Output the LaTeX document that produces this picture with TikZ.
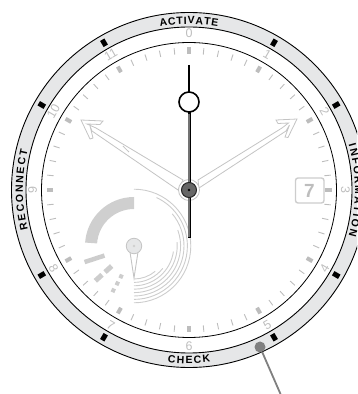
\documentclass[tikz,border=0pt]{standalone}
\usepackage{fontspec}
\setsansfont{Liberation Sans}
\definecolor{ringgrey}{HTML}{E6E7E8}
\definecolor{tickgrey}{HTML}{BDBDBD}
\definecolor{numgrey}{HTML}{BEBEBE}
\definecolor{handgrey}{HTML}{C4C4C4}
\definecolor{subgrey}{HTML}{CDCDCD}
\definecolor{arcgrey}{HTML}{CFCFCF}
\tikzset{
  minortick/.style={draw=tickgrey,line width=0.9pt},
  majortick/.style={draw=tickgrey,line width=4pt},
  ringmark/.style={draw=black,line width=5pt},
  numlabel/.style={text=numgrey,font=\sffamily\fontsize{12.5}{12.5}\selectfont,inner sep=0pt},
  greyhand/.style={draw=handgrey,fill=white,line width=0.8pt,line join=miter},
  subbar/.style={draw=subgrey},
  ringletter/.style={text=black,font=\sffamily\bfseries\fontsize{10.5}{10.5}\selectfont,inner sep=0pt,anchor=base}
}
\newdimen\rpos
% #1 radius, #2 centre angle, #3 +1 reads clockwise / -1 reads anticlockwise,
% #4 letter spacing, #5 letter/width-in-em list
\newcommand\ringword[5]{%
  \global\rpos=0pt
  \foreach \ch/\w in {#5}{\pgfmathsetlengthmacro{\tmpw}{\w*10.5+#4}\global\advance\rpos by \tmpw\relax}%
  \pgfmathsetlengthmacro{\tmpw}{\rpos-#4}%
  \global\rpos=-0.5\dimexpr\tmpw\relax
  \foreach \ch/\w in {#5}{%
    \pgfmathsetmacro{\hw}{\w*10.5/2}%
    \pgfmathsetmacro{\ang}{#2-#3*(\rpos/1pt+\hw)/#1*57.29578}%
    \pgfmathsetmacro{\rot}{\ang-#3*90}%
    \node[ringletter,rotate=\rot] at (\ang:#1) {\ch};%
    \pgfmathsetlengthmacro{\tmpw}{\w*10.5+#4}%
    \global\advance\rpos by \tmpw\relax
  }%
}
\begin{document}
\begin{tikzpicture}[x=1pt,y=1pt]
\useasboundingbox (0,0) rectangle (357,394);
\clip (0,0) rectangle (357,394);
\begin{scope}[shift={(189,204)}]
% bezel
\fill[ringgrey,even odd rule] (0,0) circle (177.5) (0,0) circle (163);
\draw[black,line width=0.9pt] (0,0) circle (177.5);
\draw[black,line width=0.9pt] (0,0) circle (163);
\draw[black,line width=0.8pt] (0,0) circle (147.5);
% bezel marks
\foreach \a in {30,60,120,150,210,240,300,330}
  \draw[ringmark] (\a:166.5) -- (\a:173.5);
% bezel texts
\ringword{166}{90}{1}{0.8pt}{A/.722,C/.722,T/.611,I/.278,V/.667,A/.722,T/.611,E/.667}
\ringword{166}{0}{1}{1.8pt}{I/.278,N/.722,F/.611,O/.778,R/.722,M/.833,A/.722,T/.611,I/.278,O/.778,N/.722}
\ringword{166}{180}{1}{1.7pt}{R/.722,E/.667,C/.722,O/.778,N/.722,N/.722,E/.667,C/.722,T/.611}
\ringword{173.5}{270}{-1}{1.4pt}{C/.722,H/.722,E/.667,C/.722,K/.722}
% minute ticks
\foreach \i in {0,...,59}{
  \pgfmathtruncatemacro{\m}{mod(\i,5)}
  \ifnum\m=0
    \draw[majortick] (90-6*\i:136) -- (90-6*\i:142.5);
  \else
    \draw[minortick] (90-6*\i:136) -- (90-6*\i:142.5);
  \fi
}
% numerals
\foreach \i/\r in {0/0,1/-30,2/-60,3/-90,4/60,5/30,6/0,7/-30,8/-60,9/90,10/60,11/30}
  \node[numlabel,rotate=\r] (num\i) at (90-30*\i:156.5) {\i};
% date window
\draw[draw=subgrey,fill=white,line width=1.4pt,rounded corners=2.5pt] (106.5,12) rectangle (135,-13);
\node[text=tickgrey,font=\sffamily\bfseries\fontsize{19}{19}\selectfont,inner sep=0pt] (date) at (120.5,-0.5) {7};
% grey hands
\draw[greyhand] (-108,70) -- (-86,69) -- (-89,65.5) -- (-102,66) -- (-93,62) -- (-6,10) -- (-11,0) -- (-97,59) -- (-99,64) -- (-96,52) -- (-99,51) -- cycle;
\draw[handgrey,line width=0.8pt] (-66,44) .. controls (-64,41.5) and (-62,40) .. (-60,38);
\draw[greyhand] (108,71) -- (87,70) -- (89,66.5) -- (99.5,67) -- (93,62) -- (9,10) -- (10,2) -- (97,59) -- (100.5,65) -- (96,53) -- (99,52.5) -- cycle;
% sub dial
\begin{scope}[shift={(-55,-56)}]
\foreach \r/\e in {33/-50,36.4/-38,39.8/-8,43.2/5,46.6/20,50/40,53.4/65,56.8/90}
  \draw[subgrey,line width=0.9pt] (-90:\r) arc[start angle=-90,end angle=\e,radius=\r];
\fill[arcgrey] (90:49) arc[start angle=90,end angle=176,radius=49] -- (176:37) arc[start angle=176,end angle=90,radius=37] -- cycle;
\draw[subbar,line width=4.5pt] (198:31) -- (198:52);
\draw[subbar,line width=5pt] (222:30) -- (222:39);
\draw[subbar,line width=5pt] (222:43) -- (222:52);
\draw[subbar,line width=4pt] (247:31) -- (247:35);
\draw[subbar,line width=4pt] (246:39) -- (246:43);
\draw[subbar,line width=4pt] (245:47) -- (245:51);
\draw[draw=handgrey,fill=white,line width=0.9pt] (-4,-6) -- (0,-32) -- (4,-6) -- cycle;
\node[circle,draw=handgrey,fill=ringgrey,line width=0.8pt,minimum size=15.5pt,inner sep=0pt] (subhub) at (0,0) {};
\fill[arcgrey] (0,0) circle (1.3);
\end{scope}
% black hands
\node[circle,draw=handgrey,fill=white,line width=0.8pt,minimum size=21pt,inner sep=0pt] (hubouter) at (0,0) {};
\coordinate (handtop) at (0,125);
\coordinate (handbot) at (0,-48);
\draw[black,line width=2pt] (handtop) -- (0,88);
\draw[black,line width=3pt] (0,88) -- (handbot);
\draw[black!55,line width=1.1pt] (0,76) -- (0,-47);
\node[circle,draw=black,fill=white,line width=1.6pt,minimum size=20pt,inner sep=0pt] (ringhub) at (0,88) {};
\node[circle,draw=black!85,fill=black!60,line width=1pt,minimum size=15pt,inner sep=0pt] (hub) at (0,0) {};
\fill[black] (0,0) circle (1.3);
\end{scope}
% leader
\node[circle,fill=black!50,minimum size=11pt,inner sep=0pt] (pin) at (260,47) {};
\coordinate (leaderend) at (280.5,0);
\draw[black!50,line width=1.8pt] (pin) -- (leaderend);
\end{tikzpicture}
\end{document}
